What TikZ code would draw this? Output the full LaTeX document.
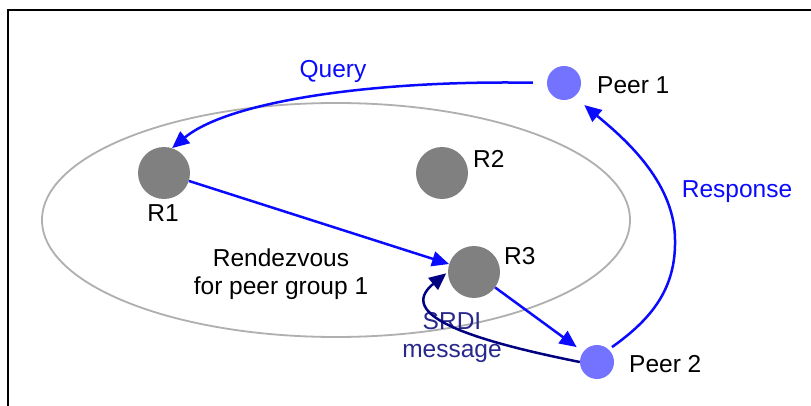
\documentclass[tikz,border=0pt]{standalone}
\usepackage{fontspec}
\setmainfont{Liberation Sans}
\usetikzlibrary{arrows.meta}

\definecolor{hubgray}{RGB}{128,128,128}
\definecolor{peerfill}{RGB}{115,115,255}
\definecolor{groupline}{RGB}{175,175,175}
\definecolor{flowblue}{RGB}{10,10,255}
\definecolor{srdinavy}{RGB}{0,0,128}
\definecolor{srditext}{RGB}{40,40,140}

\begin{document}
\begin{tikzpicture}[x=1pt,y=-1pt,
  hub/.style={circle, fill=hubgray, minimum size=52pt, inner sep=0pt},
  peer/.style={circle, fill=peerfill, minimum size=34pt, inner sep=0pt},
  lbl/.style={font=\fontsize{24.5}{28}\selectfont, inner sep=0pt},
  tip/.style={-{Triangle[length=17pt,width=15pt]}},
  flow/.style={draw=flowblue, line width=2.5pt, tip},
  srdiflow/.style={draw=srdinavy, line width=2.5pt, tip}
]
\useasboundingbox (0,0) rectangle (811,406);
\fill[white] (0,0) rectangle (811,406);

% frame
\draw[line width=2pt] (8,412) -- (8,10) -- (816,10);

% rendezvous group boundary
\draw[groupline, line width=1.8pt] (336,220) ellipse [x radius=294pt, y radius=117pt];

% rendezvous peers and edge peers
\node[hub] (R1) at (164,173) {};
\node[hub] (R2) at (442,173) {};
\node[hub] (R3) at (474,272) {};
\node[peer] (P1) at (564,83) {};
\node[peer] (P2) at (597,362) {};

% labels
\node[lbl, anchor=base] (R1lbl) at (163,222) {R1};
\node[lbl, anchor=base west] (R2lbl) at (473,168) {R2};
\node[lbl, anchor=base west] (R3lbl) at (504,264) {R3};
\node[lbl, anchor=base west] (P1lbl) at (597,94) {Peer 1};
\node[lbl, anchor=base west] (P2lbl) at (629,372) {Peer 2};
\node[lbl, text=flowblue, anchor=base] (qlbl) at (333,78) {Query};
\node[lbl, text=flowblue, anchor=base] (rlbl) at (737,197) {Response};
\node[lbl, align=center, anchor=base] (rdv) at (281,294) {Rendezvous\\for peer group 1};
\node[lbl, text=srditext, align=center, anchor=base] (slbl) at (452,357) {SRDI\\message};

% message flow
\draw[flow, shorten <=14pt] (P1.west) .. controls (380,80) and (230,100) .. (R1.72);
\draw[flow] (R1) -- (R3);
\draw[flow, shorten >=8pt] (R3) -- (P2);
\draw[flow, shorten <=4pt, shorten >=13pt] (P2.47)
  .. controls (650,320) and (676,290) .. (675,240)
  .. controls (675,180) and (620,135) .. (P1.-53);
\draw[srdiflow, shorten >=2pt] (P2.west) .. controls (470,340) and (395,315) .. (R3.west);
\end{tikzpicture}
\end{document}
